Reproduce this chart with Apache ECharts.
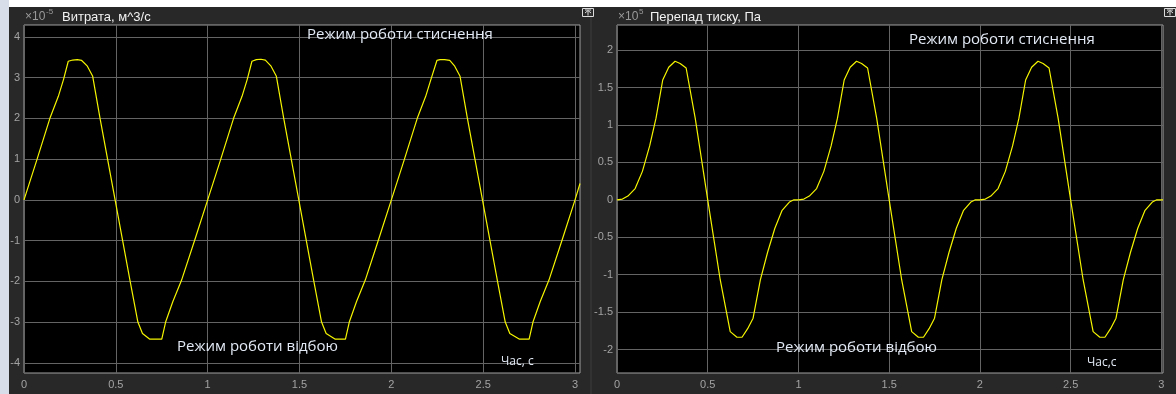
<!DOCTYPE html>
<html>
<head>
<meta charset="utf-8">
<script src="https://cdn.jsdelivr.net/npm/echarts@6/dist/echarts.min.js"></script>
<style>
html,body{margin:0;padding:0;background:#ffffff;}
#wrap{position:relative;width:1176px;height:394px;overflow:hidden;}
#strip{position:absolute;left:0;top:0;width:9px;height:394px;background:#d7dee9;}
#panel{position:absolute;left:9px;top:7px;width:1167px;height:387px;background:#282828;}
#sep{position:absolute;left:590px;top:7px;width:2px;height:387px;background:#323232;}
#c{position:absolute;left:0;top:0;width:1176px;height:394px;}
</style>
</head>
<body>
<div id="wrap"><div id="strip"></div><div id="panel"></div><div id="sep"></div><div id="c"></div></div>
<script>
// ---- data ----
const flowTime = [
  0.000, 0.070, 0.141, 0.187, 0.215, 0.241, 0.265, 0.290, 0.314, 0.345, 0.374, 0.414, 0.496, 0.578, 0.620, 0.645, 0.685, 0.750, 0.771, 0.810, 0.858, 0.930,
  1.000, 1.070, 1.141, 1.187, 1.215, 1.241, 1.265, 1.290, 1.314, 1.345, 1.374, 1.414, 1.496, 1.578, 1.620, 1.645, 1.695, 1.750, 1.771, 1.810, 1.858, 1.930,
  2.000, 2.070, 2.141, 2.187, 2.215, 2.248, 2.265, 2.290, 2.318, 2.345, 2.374, 2.414, 2.496, 2.578, 2.620, 2.645, 2.698, 2.750, 2.771, 2.810, 2.858, 2.930,
  3.000, 3.027
];
const flowValues = [
  0.00, 0.98, 2.00, 2.54, 2.95, 3.40, 3.43, 3.44, 3.42, 3.28, 3.03, 2.00, 0.00, -2.00, -3.00, -3.28, -3.42, -3.42, -3.00, -2.50, -1.97, -0.98,
  0.00, 0.98, 2.00, 2.54, 2.95, 3.40, 3.44, 3.45, 3.43, 3.28, 3.03, 2.00, 0.00, -2.00, -3.00, -3.28, -3.42, -3.42, -3.00, -2.50, -1.97, -0.98,
  0.00, 0.98, 2.00, 2.54, 2.95, 3.42, 3.44, 3.44, 3.42, 3.28, 3.03, 2.00, 0.00, -2.00, -3.00, -3.28, -3.42, -3.42, -3.00, -2.50, -1.97, -0.98,
  0.00, 0.40
];
const pressureTime = [
  0.000, 0.030, 0.060, 0.100, 0.140, 0.180, 0.215, 0.252, 0.285, 0.320, 0.348, 0.381, 0.431, 0.500, 0.569, 0.624, 0.661, 0.689, 0.720, 0.750, 0.790, 0.830, 0.870, 0.910, 0.950, 0.975,
  1.000, 1.030, 1.060, 1.100, 1.140, 1.180, 1.215, 1.252, 1.285, 1.320, 1.348, 1.381, 1.431, 1.500, 1.569, 1.624, 1.661, 1.689, 1.720, 1.750, 1.790, 1.830, 1.870, 1.910, 1.950, 1.975,
  2.000, 2.030, 2.060, 2.100, 2.140, 2.180, 2.215, 2.252, 2.285, 2.320, 2.348, 2.381, 2.431, 2.500, 2.569, 2.624, 2.661, 2.689, 2.720, 2.750, 2.790, 2.830, 2.870, 2.910, 2.950, 2.975,
  3.000, 3.009
];
const pressureValues = [
  0.00, 0.01, 0.05, 0.15, 0.38, 0.72, 1.09, 1.60, 1.77, 1.85, 1.82, 1.76, 1.09, 0.00, -1.07, -1.76, -1.835, -1.835, -1.72, -1.58, -1.07, -0.70, -0.38, -0.14, -0.03, 0.00,
  0.00, 0.01, 0.05, 0.15, 0.38, 0.72, 1.09, 1.60, 1.77, 1.85, 1.82, 1.76, 1.09, 0.00, -1.07, -1.76, -1.835, -1.835, -1.72, -1.58, -1.07, -0.70, -0.38, -0.14, -0.03, 0.00,
  0.00, 0.01, 0.05, 0.15, 0.38, 0.72, 1.09, 1.60, 1.77, 1.85, 1.82, 1.76, 1.09, 0.00, -1.07, -1.76, -1.835, -1.835, -1.72, -1.58, -1.07, -0.70, -0.38, -0.14, -0.03, 0.00,
  0.00, 0.00
];
const timeTicks = [0, 0.5, 1, 1.5, 2, 2.5, 3];
const flowTicks = [-4, -3, -2, -1, 0, 1, 2, 3, 4];
const pressureTicks = [-2, -1.5, -1, -0.5, 0, 0.5, 1, 1.5, 2];
const flowTitle = 'Витрата, м^3/с';
const pressureTitle = 'Перепад тиску, Па';
const flowExponent = '-5';
const pressureExponent = '5';
const modeCompress = 'Режим роботи стиснення';
const modeRebound = 'Режим роботи відбою';
const timeLabelLeft = 'Час, с';
const timeLabelRight = 'Час,с';

// ---- chart ----
const chart = echarts.init(document.getElementById('c'), null, {renderer: 'canvas'});
const tickFont = {color: '#a3a3a3', fontSize: 11, fontFamily: 'Liberation Sans, Arial, sans-serif'};
const gridLine = {show: true, lineStyle: {color: '#646464', width: 1}};

function xAxisFor(gi, maxV) {
  return {
    gridIndex: gi, type: 'value', min: 0, max: maxV,
    axisLine: {show: false},
    axisTick: {show: false, customValues: timeTicks},
    axisLabel: Object.assign({customValues: timeTicks, margin: 6, formatter: v => String(v)}, tickFont),
    splitLine: gridLine
  };
}
function yAxisFor(gi, minV, maxV, ticks) {
  return {
    gridIndex: gi, type: 'value', min: minV, max: maxV,
    axisLine: {show: false},
    axisTick: {show: false, customValues: ticks},
    axisLabel: Object.assign({customValues: ticks, margin: 4, formatter: v => String(v)}, tickFont),
    splitLine: gridLine
  };
}
function zip(t, v) { return t.map((x, i) => [x, v[i]]); }

const annot = {fill: '#e3eaf5', fontSize: 15, fontFamily: 'Open Sans, Noto Sans, sans-serif'};
function txt(x, y, text, style, align) {
  return {type: 'text', x: x, y: y, z: 100, silent: true,
    style: Object.assign({text: text, textAlign: align || 'left', textVerticalAlign: 'middle'}, style)};
}
function icon(x, y) {
  return [
    {type: 'rect', z: 100, silent: true, shape: {x: x + 0.5, y: y + 0.5, width: 11, height: 8},
      style: {fill: 'none', stroke: '#dcdcdc', lineWidth: 1}},
    {type: 'polyline', z: 100, silent: true, shape: {points: [[x + 3, y + 5], [x + 6, y + 2.5], [x + 9, y + 5]]},
      style: {fill: 'none', stroke: '#dcdcdc', lineWidth: 1}},
    {type: 'line', z: 100, silent: true, shape: {x1: x + 6, y1: y + 3, x2: x + 6, y2: y + 7.5},
      style: {stroke: '#dcdcdc', lineWidth: 1}},
    {type: 'line', z: 100, silent: true, shape: {x1: x + 3, y1: y + 2, x2: x + 9, y2: y + 2},
      style: {stroke: '#dcdcdc', lineWidth: 1}}
  ];
}

const titleGrey = {fill: '#9a9a9a', fontSize: 12, fontFamily: 'Liberation Sans, Arial, sans-serif'};
const supGrey = {fill: '#9a9a9a', fontSize: 8, fontFamily: 'Liberation Sans, Arial, sans-serif'};
const titleWhite = {fill: '#f2f2f2', fontSize: 13, fontFamily: 'Liberation Sans, Arial, sans-serif'};

chart.setOption({
  animation: false,
  backgroundColor: 'transparent',
  grid: [
    {left: 24, top: 25, width: 556, height: 348, show: true, backgroundColor: '#000000', borderColor: '#a0a0a0', borderWidth: 1, containLabel: false},
    {left: 617, top: 25, width: 546, height: 348, show: true, backgroundColor: '#000000', borderColor: '#a0a0a0', borderWidth: 1, containLabel: false}
  ],
  xAxis: [xAxisFor(0, 3.027), xAxisFor(1, 3.009)],
  yAxis: [yAxisFor(0, -4.25, 4.29, flowTicks), yAxisFor(1, -2.312, 2.334, pressureTicks)],
  series: [
    {type: 'line', xAxisIndex: 0, yAxisIndex: 0, data: zip(flowTime, flowValues), showSymbol: false,
      lineStyle: {color: '#f5f500', width: 1.2}, z: 5},
    {type: 'line', xAxisIndex: 1, yAxisIndex: 1, data: zip(pressureTime, pressureValues), showSymbol: false,
      lineStyle: {color: '#f5f500', width: 1.2}, z: 5}
  ],
  graphic: {elements: [
    txt(25, 17, '×10', titleGrey),
    txt(46, 12, flowExponent, supGrey),
    txt(62, 17, flowTitle, titleWhite),
    txt(618, 17, '×10', titleGrey),
    txt(639, 12, pressureExponent, supGrey),
    txt(650, 17, pressureTitle, titleWhite),
    txt(307, 35, modeCompress, annot),
    txt(177, 347, modeRebound, annot),
    txt(501, 362, timeLabelLeft, Object.assign({}, annot, {fontSize: 12})),
    txt(909, 40, modeCompress, annot),
    txt(776, 348, modeRebound, annot),
    txt(1087, 363, timeLabelRight, Object.assign({}, annot, {fontSize: 12}))
  ].concat(icon(582, 8), icon(1164, 8))}
});
</script>
</body>
</html>
